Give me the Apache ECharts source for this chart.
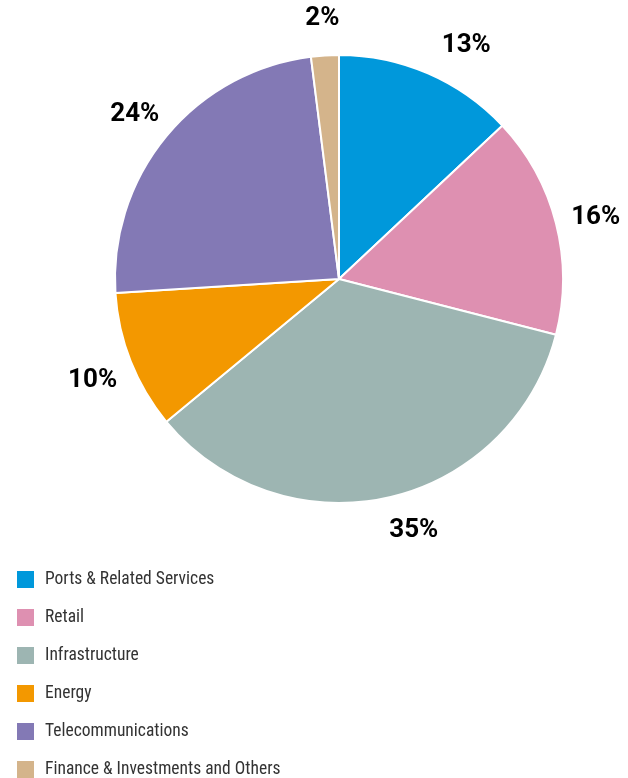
<!DOCTYPE html>
<html>
<head>
<meta charset="utf-8">
<script src="https://cdn.jsdelivr.net/npm/echarts@6/dist/echarts.min.js"></script>
<style>
html,body{margin:0;padding:0;background:#fff;}
#c{width:628px;height:778px;}
</style>
</head>
<body>
<div id="c"></div>
<script>
const categories = ['Ports & Related Services','Retail','Infrastructure','Energy','Telecommunications','Finance & Investments and Others'];
const values = [13, 16, 35, 10, 24, 2];
const colors = ['#0098DB','#DE90B1','#9DB5B2','#F39800','#8379B5','#D4B48B'];

// label nudges (style only)
const labelNudge = { 'Ports & Related Services': [22, 10], 'Infrastructure': [17, -7] };

const chart = echarts.init(document.getElementById('c'));
const LEGEND_FONT = '"Roboto Condensed","DejaVu Sans Condensed",sans-serif';
const LABEL_FONT = 'Roboto,"Noto Sans",sans-serif';
chart.setOption({
  animation: false,
  color: colors,
  legend: {
    orient: 'vertical',
    left: 10,
    top: 564,
    height: 260,
    itemWidth: 19,
    itemHeight: 19,
    itemGap: 17,
    icon: 'rect',
    selectedMode: false,
    textStyle: { fontFamily: LEGEND_FONT, fontSize: 17.5, lineHeight: 19, color: '#333', padding: [0,0,0,5] },
    data: categories.map((n, i) => ({ name: n, itemStyle: { color: colors[i] } }))
  },
  series: [{
    type: 'pie',
    center: [339, 279],
    radius: 224,
    startAngle: 90,
    clockwise: true,
    itemStyle: { borderColor: '#fff', borderWidth: 2 },
    label: { show: false },
    labelLine: { show: false },
    emphasis: { disabled: true },
    data: categories.map((n, i) => ({ name: n, value: values[i] }))
  }, {
    type: 'pie',
    center: [339, 279],
    radius: [246, 278],
    startAngle: 90,
    clockwise: true,
    silent: true,
    itemStyle: { color: 'rgba(0,0,0,0)', borderWidth: 0 },
    emphasis: { disabled: true },
    label: {
      show: true,
      position: 'inside',
      rotate: 0,
      offset: [0, 4],
      overflow: 'none',
      formatter: '{c}%',
      fontFamily: LABEL_FONT,
      fontWeight: 'bold',
      fontStyle: 'normal',
      fontSize: 26,
      color: '#000'
    },
    labelLine: { show: false },
    data: categories.map((n, i) => ({
      name: n, value: values[i],
      label: labelNudge[n] ? { offset: labelNudge[n] } : undefined
    }))
  }]
});
</script>
</body>
</html>
